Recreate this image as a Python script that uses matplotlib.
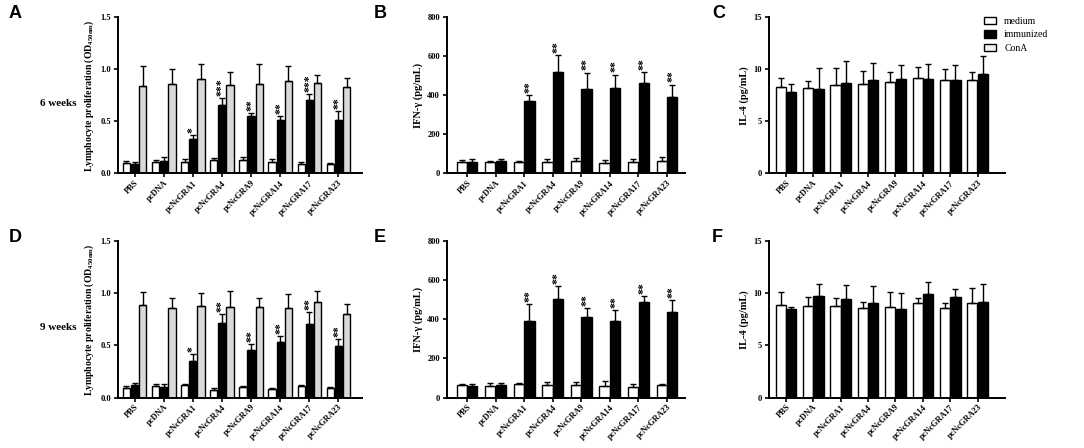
import numpy as np
import matplotlib
matplotlib.use("Agg")
import matplotlib.pyplot as plt
from matplotlib.patches import Patch

plt.rcParams['font.family'] = ['Liberation Serif', 'DejaVu Serif']
plt.rcParams['font.weight'] = 'bold'
plt.rcParams['mathtext.fontset'] = 'custom'
plt.rcParams['mathtext.rm'] = 'Liberation Serif:bold'
plt.rcParams['mathtext.bf'] = 'Liberation Serif:bold'
plt.rcParams['mathtext.it'] = 'Liberation Serif:italic:bold'

groups = ["PBS", "pcDNA", "pcNcGRA1", "pcNcGRA4", "pcNcGRA9",
          "pcNcGRA14", "pcNcGRA17", "pcNcGRA23"]

# A: lymphocyte proliferation, 6 weeks
a_medium = [0.10, 0.11, 0.11, 0.13, 0.13, 0.11, 0.09, 0.09]
a_medium_err = [0.02, 0.02, 0.03, 0.02, 0.03, 0.03, 0.02, 0.01]
a_immun = [0.09, 0.12, 0.33, 0.66, 0.55, 0.51, 0.70, 0.51]
a_immun_err = [0.02, 0.04, 0.04, 0.06, 0.03, 0.04, 0.06, 0.09]
a_cona = [0.84, 0.86, 0.91, 0.85, 0.86, 0.89, 0.87, 0.83]
a_cona_err = [0.19, 0.14, 0.14, 0.12, 0.19, 0.14, 0.07, 0.09]
a_stars = ["", "", "*", "***", "**", "**", "***", "**"]

# D: lymphocyte proliferation, 9 weeks
d_medium = [0.09, 0.11, 0.12, 0.07, 0.10, 0.08, 0.11, 0.09]
d_medium_err = [0.02, 0.02, 0.01, 0.02, 0.01, 0.01, 0.01, 0.01]
d_immun = [0.12, 0.10, 0.35, 0.71, 0.46, 0.53, 0.70, 0.49]
d_immun_err = [0.02, 0.03, 0.07, 0.09, 0.05, 0.06, 0.12, 0.07]
d_cona = [0.89, 0.86, 0.88, 0.87, 0.87, 0.86, 0.92, 0.80]
d_cona_err = [0.12, 0.09, 0.12, 0.15, 0.08, 0.13, 0.10, 0.10]
d_stars = ["", "", "*", "**", "**", "**", "**", "**"]

# B: IFN-gamma, 6 weeks
b_medium = [60, 57, 58, 60, 65, 52, 60, 65]
b_medium_err = [10, 5, 5, 15, 15, 15, 15, 20]
b_immun = [57, 62, 372, 520, 430, 435, 462, 392]
b_immun_err = [15, 13, 30, 85, 85, 70, 57, 62]
b_stars = ["", "", "**", "**", "**", "**", "**", "**"]

# E: IFN-gamma, 9 weeks
e_medium = [62, 58, 68, 65, 62, 58, 55, 63]
e_medium_err = [5, 18, 4, 15, 18, 28, 15, 5]
e_immun = [57, 65, 392, 505, 412, 393, 488, 437]
e_immun_err = [10, 8, 85, 65, 45, 55, 30, 60]
e_stars = ["", "", "**", "**", "**", "**", "**", "**"]

# C: IL-4, 6 weeks
c_medium = [8.3, 8.2, 8.5, 8.6, 8.8, 9.2, 9.0, 9.0]
c_medium_err = [0.9, 0.7, 1.6, 1.2, 0.9, 1.0, 1.0, 0.7]
c_immun = [7.8, 8.1, 8.7, 9.0, 9.1, 9.1, 9.0, 9.5]
c_immun_err = [0.8, 2.0, 2.1, 1.6, 1.3, 1.4, 1.4, 1.8]

# F: IL-4, 9 weeks
f_medium = [8.9, 8.8, 8.8, 8.6, 8.7, 9.1, 8.6, 9.1]
f_medium_err = [1.2, 0.8, 0.7, 0.6, 1.4, 0.4, 0.5, 1.4]
f_immun = [8.5, 9.7, 9.4, 9.1, 8.5, 9.9, 9.6, 9.2]
f_immun_err = [0.2, 1.2, 1.4, 1.6, 1.5, 1.2, 0.8, 1.7]

W, H = 1084, 448
fig = plt.figure(figsize=(W / 100, H / 100), dpi=100)


def make_ax(left, right, top, bottom):
    return fig.add_axes([left / W, 1 - bottom / H, (right - left) / W, (bottom - top) / H])


def bars(ax, series, width, offsets, colors, stars=None, star_pad=0.0, star_idx=1):
    x = np.arange(len(groups))
    tops = []
    for (vals, errs), off, col in zip(series, offsets, colors):
        vals = np.array(vals)
        errs = np.array(errs)
        ax.bar(x + off, vals, width, color=col, edgecolor='black', linewidth=1.0, zorder=2)
        ax.errorbar(x + off, vals, yerr=[np.zeros_like(errs), errs], fmt='none',
                    ecolor='black', elinewidth=1.0, capsize=2.2, capthick=1.0, zorder=3)
        tops.append(vals + errs)
    if stars:
        for i, s in enumerate(stars):
            if s:
                ax.text(x[i] + offsets[star_idx], tops[star_idx][i] + star_pad, s,
                        rotation=90, ha='center', va='bottom', fontsize=8.5, zorder=4)
    ax.set_xticks(x)
    ax.set_xticklabels(groups, rotation=45, ha='right', rotation_mode='anchor', fontsize=6)


def style(ax, ylim, yticks, ylabel, xlim, lab_size):
    ax.set_ylim(*ylim)
    ax.set_yticks(yticks)
    ax.set_xlim(*xlim)
    for s in ['top', 'right']:
        ax.spines[s].set_visible(False)
    for s in ['left', 'bottom']:
        ax.spines[s].set_linewidth(1.4)
    ax.tick_params(axis='both', direction='out', length=3, width=1.2, labelsize=6, pad=2)
    ax.tick_params(axis='x', pad=1)
    ax.set_ylabel(ylabel, fontsize=lab_size, fontweight='bold', labelpad=3)


white, black, grey = 'white', 'black', '#d9d9d9'
lymph_label = r"Lymphocyte proliferation (OD$_{\mathrm{450nm}}$)"

# row positions (pixel)
rows = [(17, 173.5), (241, 397.5)]

for r, (top, bottom) in enumerate(rows):
    # lymphocyte
    ax = make_ax(118, 362, top, bottom)
    if r == 0:
        ser = [(a_medium, a_medium_err), (a_immun, a_immun_err), (a_cona, a_cona_err)]
        st = a_stars
    else:
        ser = [(d_medium, d_medium_err), (d_immun, d_immun_err), (d_cona, d_cona_err)]
        st = d_stars
    bars(ax, ser, 0.25, [-0.28, 0.0, 0.28], [white, black, grey], st, 0.02)
    style(ax, (0, 1.5), [0.0, 0.5, 1.0, 1.5], lymph_label, (-0.57, 7.81), 7)
    ax.set_yticklabels(["0.0", "0.5", "1.0", "1.5"])

    # IFN-gamma
    ax = make_ax(447, 685, top, bottom)
    if r == 0:
        ser = [(b_medium, b_medium_err), (b_immun, b_immun_err)]
        st = b_stars
    else:
        ser = [(e_medium, e_medium_err), (e_immun, e_immun_err)]
        st = e_stars
    bars(ax, ser, 0.36, [-0.185, 0.185], [white, black], st, 12)
    style(ax, (0, 800), [0, 200, 400, 600, 800], "IFN-γ (pg/mL)", (-0.70, 7.63), 7.5)

    # IL-4
    ax = make_ax(769, 1005, top, bottom)
    if r == 0:
        ser = [(c_medium, c_medium_err), (c_immun, c_immun_err)]
    else:
        ser = [(f_medium, f_medium_err), (f_immun, f_immun_err)]
    bars(ax, ser, 0.37, [-0.19, 0.19], [white, black])
    style(ax, (0, 15), [0, 5, 10, 15], "IL-4 (pg/mL)", (-0.62, 8.0), 7.5)

# panel letters
for lab, (px, py) in zip("ABCDEF", [(9, 13), (374, 13), (712, 13),
                                    (9, 237), (374, 237), (712, 237)]):
    fig.text(px / W, 1 - py / H, lab, fontsize=13, fontweight='bold',
             family='Liberation Sans', ha='left', va='center')

fig.text(40 / W, 1 - 103 / H, "6 weeks", fontsize=8, fontweight='bold', va='center')
fig.text(40 / W, 1 - 327 / H, "9 weeks", fontsize=8, fontweight='bold', va='center')

handles = [Patch(facecolor=white, edgecolor='black', linewidth=1.0),
           Patch(facecolor=black, edgecolor='black', linewidth=1.0),
           Patch(facecolor='#f2f2f2', edgecolor='black', linewidth=1.0)]
leg = fig.legend(handles, ["medium", "immunized", "ConA"], loc='upper left',
                 bbox_to_anchor=(975 / W, 1 - 8 / H), frameon=False,
                 prop={'family': 'Liberation Serif', 'weight': 'normal', 'size': 7},
                 handlelength=1.3, handleheight=0.8, handletextpad=0.8, labelspacing=0.45)

fig.savefig("out.png", dpi=100)
